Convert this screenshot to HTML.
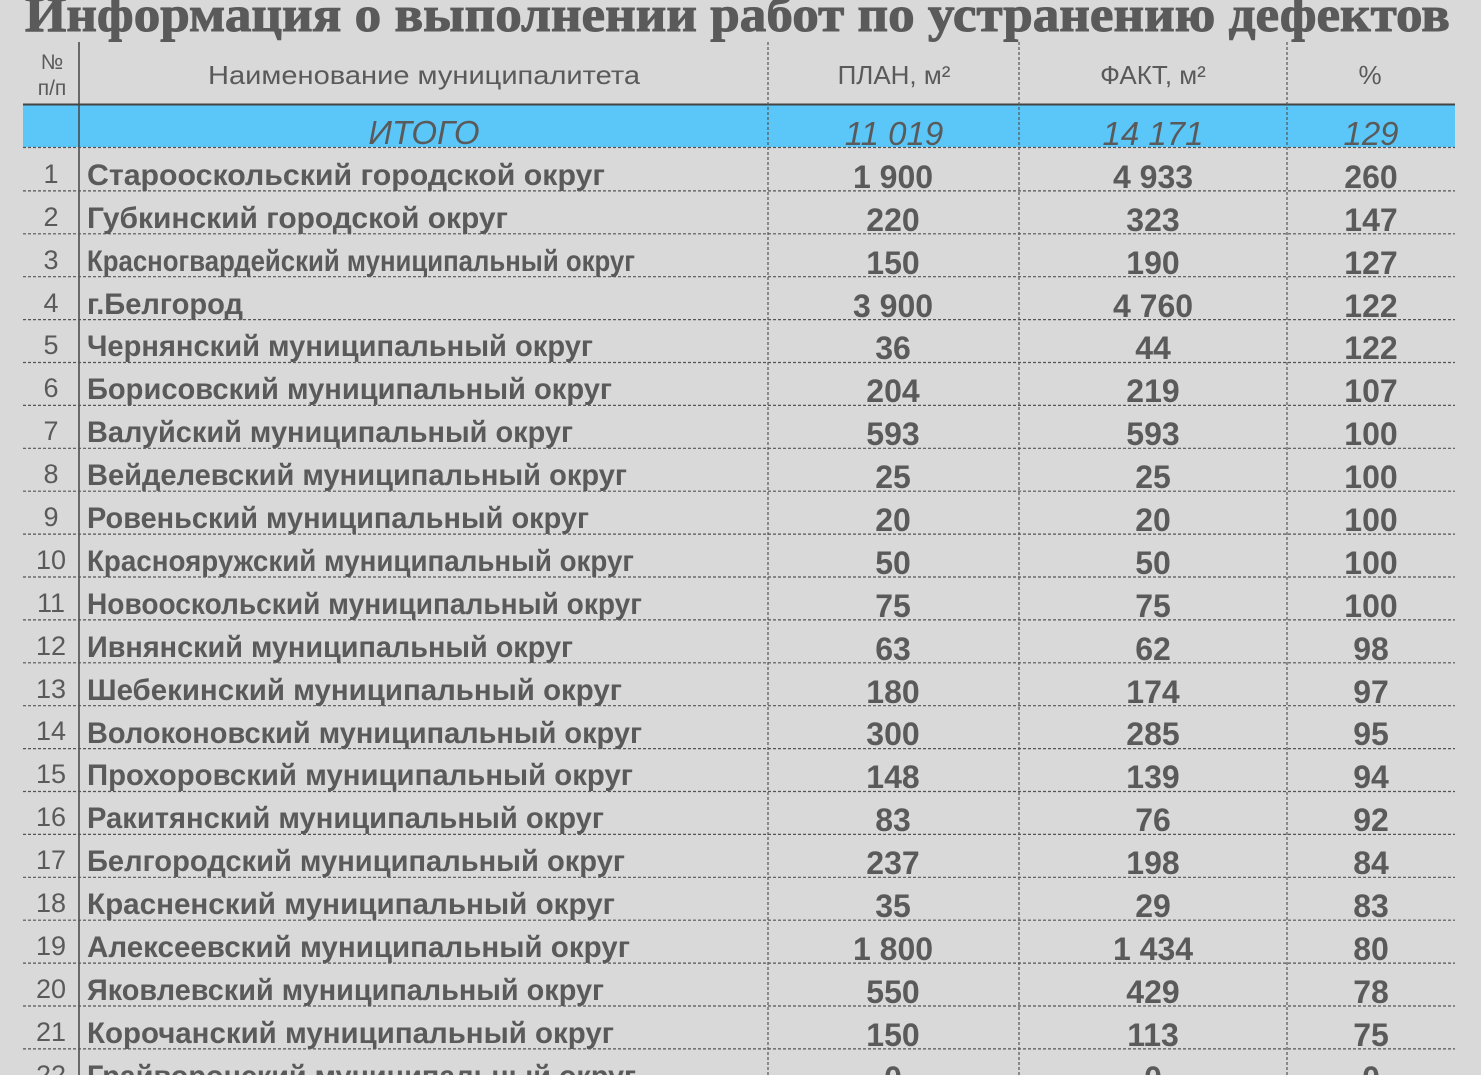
<!DOCTYPE html>
<html><head><meta charset="utf-8"><style>
html,body{margin:0;padding:0;background:#d9d9d9;}
svg{display:block}
text{font-family:"Liberation Sans",sans-serif;fill:#5a5a5a}
</style></head><body>
<svg width="1481" height="1075" viewBox="0 0 1481 1075" xmlns="http://www.w3.org/2000/svg">
<rect width="1481" height="1075" fill="#d9d9d9"/>
<text x="25" y="31" font-weight="bold" font-size="50" textLength="1425" lengthAdjust="spacingAndGlyphs" style="font-family:'Liberation Serif',serif" stroke="#5a5a5a" stroke-width="1">Информация о выполнении работ по устранению дефектов</text>
<rect x="23" y="105" width="1432" height="42" fill="#5bc6f8"/>
<line x1="23" y1="104.5" x2="1455" y2="104.5" stroke="#444" stroke-width="2"/>
<line x1="79" y1="42" x2="79" y2="1075" stroke="#444" stroke-width="1.5"/>
<g stroke="#555" stroke-width="1.2" stroke-dasharray="3,2">
<line x1="768" y1="42" x2="768" y2="1075"/>
<line x1="1019" y1="42" x2="1019" y2="1075"/>
<line x1="1287" y1="42" x2="1287" y2="1075"/>
<line x1="23" y1="147.5" x2="1455" y2="147.5"/>
<line x1="23" y1="190.9" x2="1455" y2="190.9"/>
<line x1="23" y1="233.8" x2="1455" y2="233.8"/>
<line x1="23" y1="276.7" x2="1455" y2="276.7"/>
<line x1="23" y1="319.6" x2="1455" y2="319.6"/>
<line x1="23" y1="362.5" x2="1455" y2="362.5"/>
<line x1="23" y1="405.4" x2="1455" y2="405.4"/>
<line x1="23" y1="448.3" x2="1455" y2="448.3"/>
<line x1="23" y1="491.2" x2="1455" y2="491.2"/>
<line x1="23" y1="534.1" x2="1455" y2="534.1"/>
<line x1="23" y1="577" x2="1455" y2="577"/>
<line x1="23" y1="619.9" x2="1455" y2="619.9"/>
<line x1="23" y1="662.8" x2="1455" y2="662.8"/>
<line x1="23" y1="705.7" x2="1455" y2="705.7"/>
<line x1="23" y1="748.6" x2="1455" y2="748.6"/>
<line x1="23" y1="791.5" x2="1455" y2="791.5"/>
<line x1="23" y1="834.4" x2="1455" y2="834.4"/>
<line x1="23" y1="877.3" x2="1455" y2="877.3"/>
<line x1="23" y1="920.2" x2="1455" y2="920.2"/>
<line x1="23" y1="963.1" x2="1455" y2="963.1"/>
<line x1="23" y1="1006" x2="1455" y2="1006"/>
<line x1="23" y1="1048.9" x2="1455" y2="1048.9"/>
</g>
<g font-size="21" text-anchor="middle">
<text x="52" y="69">№</text>
<text x="52" y="95">п/п</text>
</g>
<g font-size="26" text-anchor="middle">
<text x="424" y="84" textLength="432" lengthAdjust="spacingAndGlyphs">Наименование муниципалитета</text>
<text x="894" y="84">ПЛАН, м²</text>
<text x="1153" y="84">ФАКТ, м²</text>
<text x="1370" y="84">%</text>
</g>
<g font-size="33" font-style="italic" text-anchor="middle">
<text x="424" y="144">ИТОГО</text>
<text x="894" y="145">11 019</text>
<text x="1153" y="145">14 171</text>
<text x="1371" y="145">129</text>
</g>
<g font-size="30" font-weight="bold">
<text x="87" y="185" textLength="518" lengthAdjust="spacingAndGlyphs">Старооскольский городской округ</text>
<text x="87" y="228" textLength="421" lengthAdjust="spacingAndGlyphs">Губкинский городской округ</text>
<text x="87" y="271" textLength="548" lengthAdjust="spacingAndGlyphs">Красногвардейский муниципальный округ</text>
<text x="87" y="314" textLength="156" lengthAdjust="spacingAndGlyphs">г.Белгород</text>
<text x="87" y="356" textLength="506" lengthAdjust="spacingAndGlyphs">Чернянский муниципальный округ</text>
<text x="87" y="399" textLength="525" lengthAdjust="spacingAndGlyphs">Борисовский муниципальный округ</text>
<text x="87" y="442" textLength="486" lengthAdjust="spacingAndGlyphs">Валуйский муниципальный округ</text>
<text x="87" y="485" textLength="540" lengthAdjust="spacingAndGlyphs">Вейделевский муниципальный округ</text>
<text x="87" y="528" textLength="502" lengthAdjust="spacingAndGlyphs">Ровеньский муниципальный округ</text>
<text x="87" y="571" textLength="547" lengthAdjust="spacingAndGlyphs">Краснояружский муниципальный округ</text>
<text x="87" y="614" textLength="555" lengthAdjust="spacingAndGlyphs">Новооскольский муниципальный округ</text>
<text x="87" y="657" textLength="486" lengthAdjust="spacingAndGlyphs">Ивнянский муниципальный округ</text>
<text x="87" y="700" textLength="535" lengthAdjust="spacingAndGlyphs">Шебекинский муниципальный округ</text>
<text x="87" y="743" textLength="555" lengthAdjust="spacingAndGlyphs">Волоконовский муниципальный округ</text>
<text x="87" y="785" textLength="546" lengthAdjust="spacingAndGlyphs">Прохоровский муниципальный округ</text>
<text x="87" y="828" textLength="517" lengthAdjust="spacingAndGlyphs">Ракитянский муниципальный округ</text>
<text x="87" y="871" textLength="538" lengthAdjust="spacingAndGlyphs">Белгородский муниципальный округ</text>
<text x="87" y="914" textLength="528" lengthAdjust="spacingAndGlyphs">Красненский муниципальный округ</text>
<text x="87" y="957" textLength="543" lengthAdjust="spacingAndGlyphs">Алексеевский муниципальный округ</text>
<text x="87" y="1000" textLength="517" lengthAdjust="spacingAndGlyphs">Яковлевский муниципальный округ</text>
<text x="87" y="1043" textLength="527" lengthAdjust="spacingAndGlyphs">Корочанский муниципальный округ</text>
<text x="87" y="1086" textLength="549" lengthAdjust="spacingAndGlyphs">Грайворонский муниципальный округ</text>
</g>
<g font-size="27" text-anchor="middle">
<text x="51" y="183">1</text><text x="51" y="226">2</text><text x="51" y="269">3</text><text x="51" y="312">4</text><text x="51" y="354">5</text><text x="51" y="397">6</text><text x="51" y="440">7</text><text x="51" y="483">8</text><text x="51" y="526">9</text><text x="51" y="569">10</text><text x="51" y="612">11</text><text x="51" y="655">12</text><text x="51" y="698">13</text><text x="51" y="740">14</text><text x="51" y="783">15</text><text x="51" y="826">16</text><text x="51" y="869">17</text><text x="51" y="912">18</text><text x="51" y="955">19</text><text x="51" y="998">20</text><text x="51" y="1041">21</text><text x="51" y="1084">22</text>
</g>
<g font-size="32" font-weight="bold" text-anchor="middle">
<text x="893" y="188">1 900</text><text x="1153" y="188">4 933</text><text x="1371" y="188">260</text>
<text x="893" y="231">220</text><text x="1153" y="231">323</text><text x="1371" y="231">147</text>
<text x="893" y="274">150</text><text x="1153" y="274">190</text><text x="1371" y="274">127</text>
<text x="893" y="317">3 900</text><text x="1153" y="317">4 760</text><text x="1371" y="317">122</text>
<text x="893" y="359">36</text><text x="1153" y="359">44</text><text x="1371" y="359">122</text>
<text x="893" y="402">204</text><text x="1153" y="402">219</text><text x="1371" y="402">107</text>
<text x="893" y="445">593</text><text x="1153" y="445">593</text><text x="1371" y="445">100</text>
<text x="893" y="488">25</text><text x="1153" y="488">25</text><text x="1371" y="488">100</text>
<text x="893" y="531">20</text><text x="1153" y="531">20</text><text x="1371" y="531">100</text>
<text x="893" y="574">50</text><text x="1153" y="574">50</text><text x="1371" y="574">100</text>
<text x="893" y="617">75</text><text x="1153" y="617">75</text><text x="1371" y="617">100</text>
<text x="893" y="660">63</text><text x="1153" y="660">62</text><text x="1371" y="660">98</text>
<text x="893" y="703">180</text><text x="1153" y="703">174</text><text x="1371" y="703">97</text>
<text x="893" y="745">300</text><text x="1153" y="745">285</text><text x="1371" y="745">95</text>
<text x="893" y="788">148</text><text x="1153" y="788">139</text><text x="1371" y="788">94</text>
<text x="893" y="831">83</text><text x="1153" y="831">76</text><text x="1371" y="831">92</text>
<text x="893" y="874">237</text><text x="1153" y="874">198</text><text x="1371" y="874">84</text>
<text x="893" y="917">35</text><text x="1153" y="917">29</text><text x="1371" y="917">83</text>
<text x="893" y="960">1 800</text><text x="1153" y="960">1 434</text><text x="1371" y="960">80</text>
<text x="893" y="1003">550</text><text x="1153" y="1003">429</text><text x="1371" y="1003">78</text>
<text x="893" y="1046">150</text><text x="1153" y="1046">113</text><text x="1371" y="1046">75</text>
<text x="893" y="1089">0</text><text x="1153" y="1089">0</text><text x="1371" y="1089">0</text>
</g>
</svg>
</body></html>
